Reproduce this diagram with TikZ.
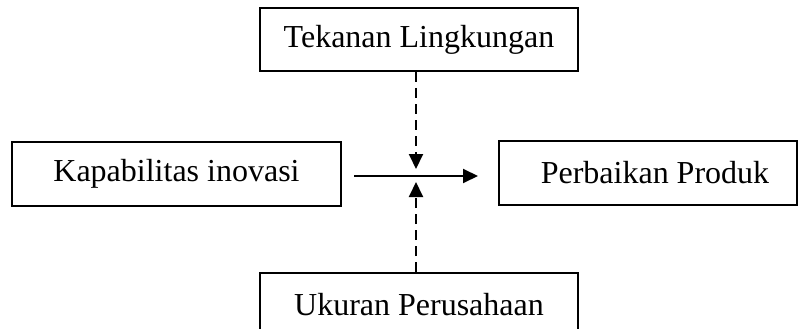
\documentclass[tikz,border=0pt]{standalone}
\usepackage{fontspec}
\setmainfont{Liberation Serif}
\usetikzlibrary{arrows.meta}
\begin{document}
\begin{tikzpicture}[x=1pt,y=-1pt,
  box/.style={draw=black,line width=2pt,rectangle,inner sep=0pt,
    font=\fontsize{32}{38}\selectfont,text=black},
  arr/.style={line width=2pt,-{Triangle[length=15pt,width=14pt]}},
  dsh/.style={arr,dash pattern=on 10pt off 6pt}]
\useasboundingbox (0,0) rectangle (798,329);
\node[box,minimum width=318pt,minimum height=63pt] (top) at (419,39.5) {Tekanan Lingkungan};
\node[box,minimum width=329pt,minimum height=64pt] (left) at (176.5,174) {Kapabilitas inovasi};
\node[box,minimum width=298pt,minimum height=64pt] (right) at (648,173) {\hspace*{14pt}Perbaikan Produk};
\node[box,minimum width=318pt,minimum height=63pt] (bot) at (419,304.5) {Ukuran Perusahaan};
\coordinate (m) at (416,176);
\draw[arr,shorten <=12pt,shorten >=20pt] (left.east |- m) -- (right.west |- m);
\draw[dsh,shorten >=7pt] (top.south -| m) -- (m);
\draw[dsh,shorten >=6pt] (bot.north -| m) -- (m);
\end{tikzpicture}
\end{document}
